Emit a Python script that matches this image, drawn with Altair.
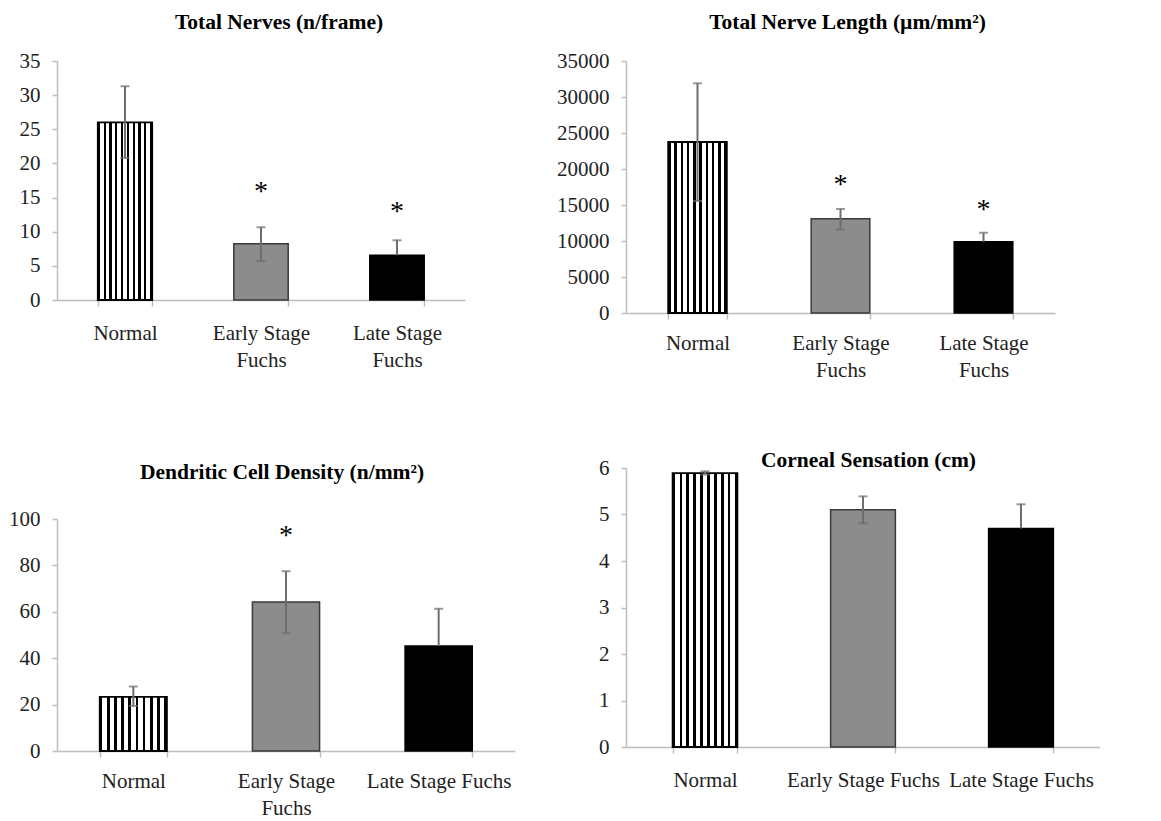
import altair as alt
import pandas as pd

CATS = ["Normal", "Early Stage Fuchs", "Late Stage Fuchs"]

# Panel 1: Total Nerves (n/frame)
nerves_mean = [26.0, 8.25, 6.55]
nerves_low = [20.8, 5.7, 6.55]
nerves_high = [31.3, 10.65, 8.75]
nerves_star = [None, 16.8, 13.9]

# Panel 2: Total Nerve Length (µm/mm²)
length_mean = [23750, 13100, 9900]
length_low = [15550, 11600, 9900]
length_high = [31900, 14450, 11150]
length_star = [None, 18750, 15300]

# Panel 3: Dendritic Cell Density (n/mm²)
dc_mean = [23.3, 64.2, 45.3]
dc_low = [19.4, 50.8, 45.3]
dc_high = [27.8, 77.5, 61.3]
dc_star = [None, 95.5, None]

# Panel 4: Corneal Sensation (cm)
cs_mean = [5.89, 5.10, 4.70]
cs_low = [5.86, 4.81, 4.70]
cs_high = [5.93, 5.39, 5.22]
cs_star = [None, None, None]

FONT = "Liberation Serif"
ERR = "#6e6e6e"

# vertical stripe fill for the "Normal" bar
N_STRIPES = 10
B = 0.04
P = (1 - B) / (N_STRIPES - 1)
stops = []
for i in range(N_STRIPES):
    s = min(i * P, 1.0)
    e = min(s + B, 1.0)
    stops.append(alt.GradientStop(offset=s, color="black"))
    stops.append(alt.GradientStop(offset=e, color="black"))
    if i < N_STRIPES - 1:
        stops.append(alt.GradientStop(offset=e, color="white"))
        stops.append(alt.GradientStop(offset=min((i + 1) * P, 1.0), color="white"))
STRIPES = alt.LinearGradient(gradient="linear", stops=stops, x1=0, x2=1, y1=0, y2=0)


def panel(title, mean, low, high, star, ymax, ystep, w, h, label_expr,
          t_offset, t_dx, pad_inner, x_pad):
    df = pd.DataFrame({"cat": CATS, "mean": mean, "low": low, "high": high,
                       "star": star})
    x = alt.X("cat:N", sort=CATS, title=None,
              scale=alt.Scale(paddingInner=pad_inner, paddingOuter=pad_inner / 2),
              axis=alt.Axis(labelAngle=0, tickBand="extent", labelExpr=label_expr,
                            tickSize=6, labelPadding=x_pad, labelLineHeight=27,
                            labelBaseline="top"))
    yscale = alt.Scale(domain=[0, ymax], nice=False)
    yaxis = alt.Axis(values=list(range(0, ymax + 1, ystep)), tickSize=5,
                     labelPadding=12, format="d")

    def Y(field):
        return alt.Y(field, title=None, scale=yscale, axis=yaxis)

    base = alt.Chart(df)

    normal = base.transform_filter(alt.datum.cat == "Normal").mark_bar(
        fill=STRIPES, stroke="black", strokeWidth=1.8).encode(x=x, y=Y("mean:Q"))
    early = base.transform_filter(alt.datum.cat == "Early Stage Fuchs").mark_bar(
        fill="#8c8c8c", stroke="#3a3a3a", strokeWidth=1.5).encode(x=x, y=Y("mean:Q"))
    late = base.transform_filter(alt.datum.cat == "Late Stage Fuchs").mark_bar(
        fill="black", stroke="black", strokeWidth=1.5).encode(x=x, y=Y("mean:Q"))

    rule = base.mark_rule(color=ERR, strokeWidth=2).encode(
        x=x, y=Y("low:Q"), y2="high:Q")
    cap_hi = base.mark_tick(color=ERR, size=9, thickness=2).encode(
        x=x, y=Y("high:Q"))
    cap_lo = base.transform_filter(alt.datum.low < alt.datum.mean).mark_tick(
        color=ERR, size=9, thickness=2).encode(x=x, y=Y("low:Q"))
    stars = base.transform_filter("isValid(datum.star)").mark_text(
        text="*", font=FONT, fontSize=28, color="black", baseline="middle",
        dy=7).encode(x=x, y=Y("star:Q"))

    return alt.layer(normal, early, late, rule, cap_hi, cap_lo, stars).properties(
        width=w, height=h,
        title=alt.TitleParams(text=title, font=FONT, fontSize=21.5, fontWeight="bold",
                              color="black", offset=t_offset, dx=t_dx,
                              anchor="middle", frame="group"))


split_both = ("datum.value == 'Early Stage Fuchs' ? ['Early Stage', 'Fuchs'] : "
              "(datum.value == 'Late Stage Fuchs' ? ['Late Stage', 'Fuchs'] : "
              "datum.label)")
split_early = ("datum.value == 'Early Stage Fuchs' ? ['Early Stage', 'Fuchs'] : "
               "datum.label")
no_split = "datum.label"

p1 = panel("Total Nerves (n/frame)", nerves_mean, nerves_low, nerves_high,
           nerves_star, 35, 5, 408, 239, split_both, 17, 18, 0.6, 16)
p2 = panel("Total Nerve Length (µm/mm²)", length_mean, length_low, length_high,
           length_star, 35000, 5000, 429, 252, split_both, 17, 7, 0.59, 13)
p3 = panel("Dendritic Cell Density (n/mm²)", dc_mean, dc_low, dc_high,
           dc_star, 100, 20, 458, 232, split_early, 25, -4, 0.56, 13)
p4 = panel("Corneal Sensation (cm)", cs_mean, cs_low, cs_high,
           cs_star, 6, 1, 474, 279, no_split, -14, 5.5, 0.59, 16)

col1 = alt.vconcat(p1, p3, spacing=91)
col2 = alt.vconcat(p2, p4, spacing=69)

chart = alt.hconcat(col1, col2, spacing=41).properties(
    padding={"top": 3, "left": 0, "right": 0, "bottom": 0}, background="white"
).configure_view(stroke=None).configure_axis(
    grid=False, domainColor="#bdbdbd", tickColor="#bdbdbd", domainWidth=1.5,
    tickWidth=1.5, labelFont=FONT, labelFontSize=21, labelColor="#222222"
)

chart.save("out.html", embed_options={"renderer": "svg", "actions": False})
